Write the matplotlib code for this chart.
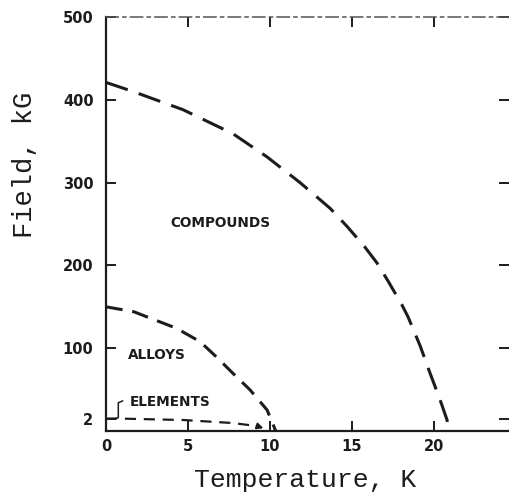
import numpy as np
import matplotlib
matplotlib.use("Agg")
import matplotlib.pyplot as plt

# ---- data ----
compounds_T = [0, 1.65, 4.7, 7.74, 9.82, 11.83, 13.66, 14.7, 15.79, 16.52,
               17.2, 18.05, 18.41, 19.15, 19.76, 20.37, 20.79, 20.9]
compounds_H = [421, 410, 388, 359, 331, 300, 269, 247, 222, 203,
               181, 152, 138, 103, 65, 28, 1.8, 0]
alloys_T = [0, 1.7, 4.3, 5.73, 6.77, 7.74, 8.78, 9.82, 10.35]
alloys_H = [150, 144, 124, 108, 87, 65, 42, 14, 0]
elements_T = [0, 0.85, 4.7, 7.7, 9.2, 9.6]
elements_H = [2, 2, 1.77, 1.29, 0.8, 0.45]

x_ticks = [0, 5, 10, 15, 20]
y_ticks = [2, 100, 200, 300, 400, 500]
y_tick_labels = ["2", "100", "200", "300", "400", "500"]

ink = "#1c1c1c"

# piecewise scale: 0-2 kG expanded at the bottom, linear above 100
def fwd(y):
    y = np.asarray(y, dtype=float)
    return np.where(y <= 2, 7.5 * y,
                    np.where(y < 100, 15 + (y - 2) * 85.0 / 98.0, y))

def inv(d):
    d = np.asarray(d, dtype=float)
    return np.where(d <= 15, d / 7.5,
                    np.where(d < 100, 2 + (d - 15) * 98.0 / 85.0, d))

fig = plt.figure(figsize=(5.10, 5.03), dpi=100)
ax = fig.add_axes([106 / 510, 72 / 503, 403 / 510, 414 / 503])
ax.set_yscale("function", functions=(fwd, inv))
ax.set_xlim(0, 24.57)
ax.set_ylim(0, 500)

# curves
ax.plot(compounds_T, compounds_H, color=ink, lw=2.2, dashes=(7.5, 3.8),
        dash_capstyle="butt", solid_joinstyle="round")
ax.plot(alloys_T, alloys_H, color=ink, lw=2.2, dashes=(5.5, 3.2),
        dash_capstyle="butt", solid_joinstyle="round")
ax.plot(elements_T[:-1], elements_H[:-1], color=ink, lw=1.6, dashes=(5, 3.5),
        dash_capstyle="butt")
ax.annotate("", xy=(elements_T[-1], elements_H[-1]),
            xytext=(elements_T[-2], elements_H[-2]),
            arrowprops=dict(arrowstyle="-|>", color=ink, lw=1.4,
                            mutation_scale=9, shrinkA=0, shrinkB=0))

# region labels
lab_font = dict(family="DejaVu Sans", fontweight="bold", fontsize=9.8, color=ink)
ax.text(6.95, 251, "COMPOUNDS", ha="center", va="center", **lab_font)
ax.text(3.1, 91, "ALLOYS", ha="center", va="center", **lab_font)
ax.text(1.45, 25, "ELEMENTS", ha="left", va="center", **lab_font)
# bracket leader for ELEMENTS
ax.plot([1.05, 0.75, 0.75, 0.55], [27, 24, 3.2, 2.1], color=ink, lw=1.1,
        solid_capstyle="butt")

# spines
for s in ["left", "bottom"]:
    ax.spines[s].set_color(ink)
    ax.spines[s].set_linewidth(1.6)
ax.spines["right"].set_visible(False)
ax.spines["top"].set_color("#555555")
ax.spines["top"].set_linewidth(1.1)
ax.spines["top"].set_linestyle((0, (8, 3, 2, 3)))

# ticks
ax.set_xticks(x_ticks)
ax.set_xticklabels([str(t) for t in x_ticks])
ax.set_yticks(y_ticks)
ax.set_yticklabels(y_tick_labels)
ax.minorticks_off()
ax.tick_params(axis="both", which="major", direction="in", length=7, width=1.4,
               color=ink, labelcolor=ink, labelsize=10.5,
               top=True, right=True)
ax.tick_params(axis="y", pad=9)
ax.tick_params(axis="x", pad=6)
for lab in ax.get_xticklabels() + ax.get_yticklabels():
    lab.set_fontweight("bold")
    lab.set_family("DejaVu Sans")

ax.set_xlabel("Temperature, K", family="Liberation Mono", fontsize=19,
              color=ink, va="center")
ax.xaxis.set_label_coords(0.494, -0.118)
ax.set_ylabel("Field, kG", family="Liberation Mono", fontsize=19.5,
              color=ink, va="center")
ax.yaxis.set_label_coords(-0.201, 0.6425)

fig.savefig("out.png", dpi=100, facecolor="white")
